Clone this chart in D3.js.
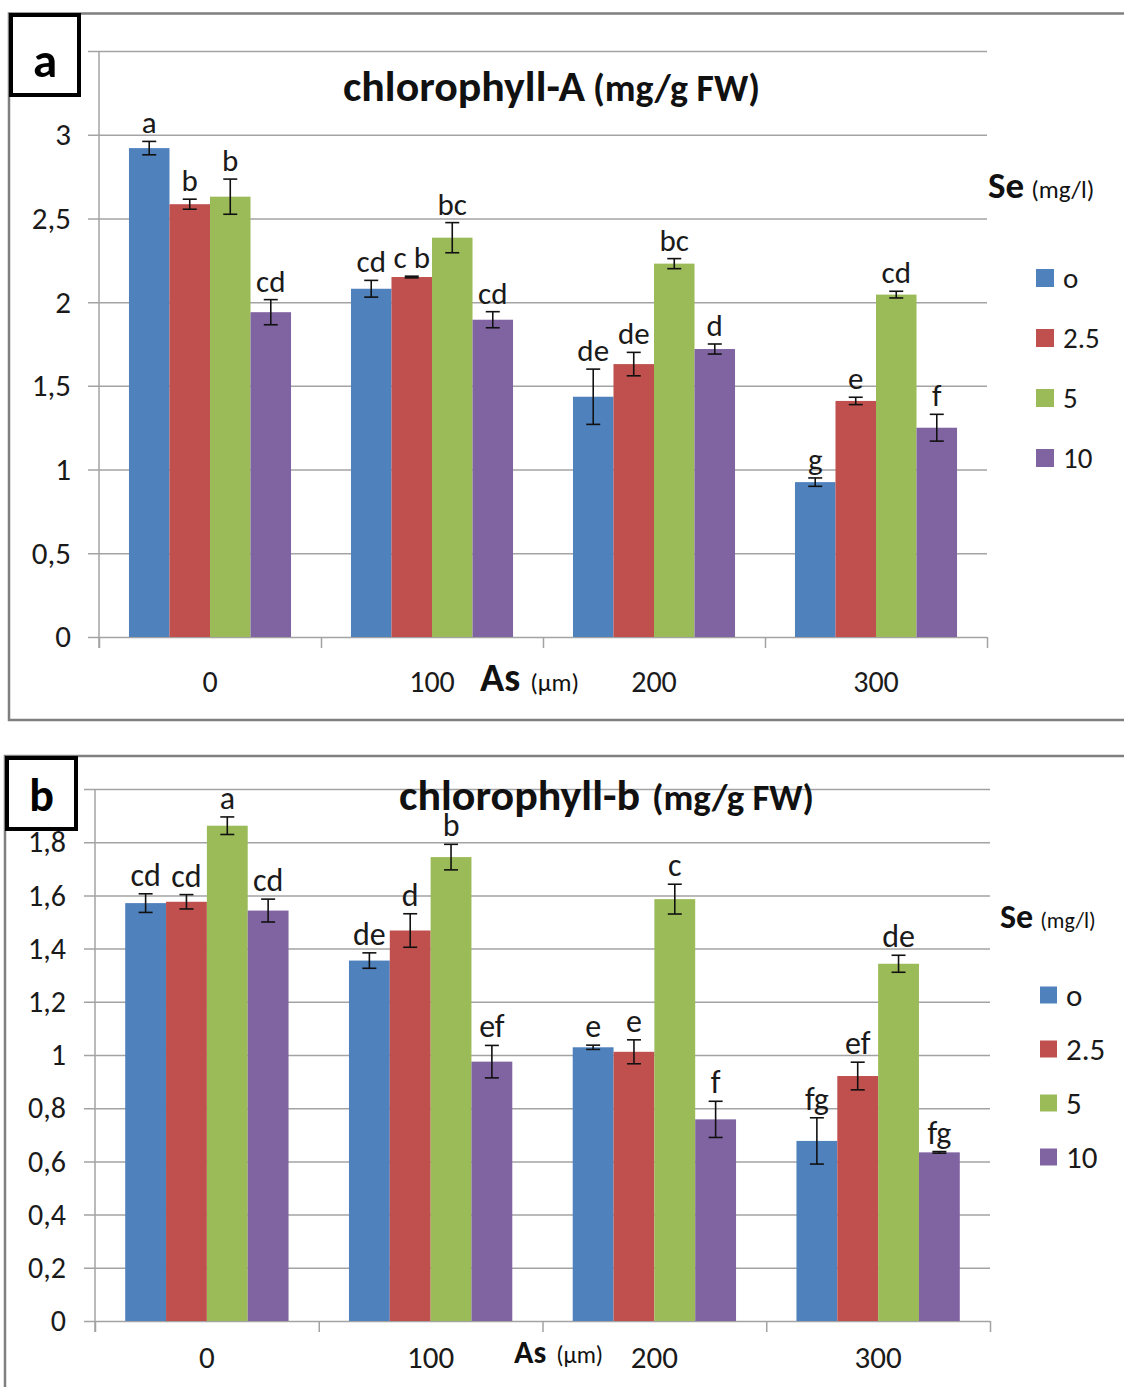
<!DOCTYPE html>
<html>
<head>
<meta charset="utf-8">
<script src="https://cdn.jsdelivr.net/npm/d3@7"></script>
<style>
  body { margin: 0; background: #fff; }
  svg { display: block; font-family: Carlito, Lato, "Open Sans", sans-serif; }
</style>
</head>
<body>
<div id="wrapper"></div>
<script>
// As doses (µm) on the x axis, Se levels (mg/l) as the four series
const asDoses = ["0", "100", "200", "300"];
const seLevels = ["o", "2.5", "5", "10"];
const seColors = ["#4f81bd", "#c0504d", "#9bbb59", "#8064a2"];

// chlorophyll-A (mg/g FW): one row per As dose, one value per Se level
const chlAValues = [
  [2.92, 2.585, 2.63, 1.94],
  [2.08, 2.15, 2.385, 1.895],
  [1.435, 1.63, 2.23, 1.72],
  [0.925, 1.41, 2.045, 1.25],
];
const chlAErrors = [
  [0.04, 0.03, 0.105, 0.075],
  [0.05, 0.005, 0.09, 0.048],
  [0.165, 0.07, 0.03, 0.03],
  [0.025, 0.022, 0.02, 0.08],
];
const chlALetters = [
  ["a", "b", "b", "cd"],
  ["cd", "c b", "bc", "cd"],
  ["de", "de", "bc", "d"],
  ["g", "e", "cd", "f"],
];
const chlATicks = [0, 0.5, 1, 1.5, 2, 2.5, 3, 3.5];

// chlorophyll-b (mg/g FW)
const chlBValues = [
  [1.571, 1.576, 1.862, 1.543],
  [1.355, 1.468, 1.744, 0.975],
  [1.029, 1.012, 1.586, 0.758],
  [0.677, 0.921, 1.343, 0.634],
];
const chlBErrors = [
  [0.035, 0.027, 0.033, 0.043],
  [0.029, 0.063, 0.048, 0.061],
  [0.008, 0.045, 0.056, 0.068],
  [0.087, 0.052, 0.032, 0.003],
];
const chlBLetters = [
  ["cd", "cd", "a", "cd"],
  ["de", "d", "b", "ef"],
  ["e", "e", "c", "f"],
  ["fg", "ef", "de", "fg"],
];
const chlBTicks = [0, 0.2, 0.4, 0.6, 0.8, 1, 1.2, 1.4, 1.6, 1.8, 2];

const GRID = "#a3a3a3";
const TEXT = "#1a1a1a";

const svg = d3.select("#wrapper")
  .append("svg")
    .attr("width", 1124)
    .attr("height", 1387);

svg.append("rect")
  .attr("width", 1124)
  .attr("height", 1387)
  .attr("fill", "#fff");

function drawPanel(p) {
  const g = svg.append("g");

  const x0 = d3.scaleBand()
    .domain(asDoses)
    .range([p.left, p.right])
    .paddingInner(0.27)
    .paddingOuter(0.135);
  const x1 = d3.scaleBand()
    .domain(seLevels)
    .range([0, x0.bandwidth()]);
  const yMax = d3.max(p.ticks);
  const y = d3.scaleLinear()
    .domain([0, yMax])
    .range([p.bottom, p.top]);

  // outer frame
  g.append("rect")
    .attr("x", p.frame.x)
    .attr("y", p.frame.y)
    .attr("width", p.frame.w)
    .attr("height", p.frame.h)
    .attr("fill", "none")
    .attr("stroke", "#7f7f7f")
    .attr("stroke-width", 2.5);

  // y axis + gridlines (top label sits under the panel letter box, so it is left blank)
  const yAxis = d3.axisLeft(y)
    .tickValues(p.ticks)
    .tickSizeInner(-(p.right - p.left))
    .tickSizeOuter(0)
    .tickPadding(p.tickPad)
    .tickFormat(d => d === yMax ? "" : String(d).replace(".", ","));
  g.append("g")
    .attr("transform", `translate(${p.left},0)`)
    .call(yAxis)
    .attr("font-family", null)
    .attr("font-size", p.tickFont)
    .call(a => a.select(".domain").remove())
    .call(a => a.selectAll(".tick line")
      .attr("x1", -11)
      .attr("stroke", GRID)
      .attr("stroke-width", 1.5))
    .call(a => a.selectAll(".tick text").attr("fill", TEXT));

  g.append("line")
    .attr("x1", p.left).attr("x2", p.left)
    .attr("y1", p.top).attr("y2", p.bottom + 11)
    .attr("stroke", GRID)
    .attr("stroke-width", 1.5);

  // x axis: boundary ticks and category labels
  const xEdges = d3.scaleLinear().domain([0, asDoses.length]).range([p.left, p.right]);
  g.append("g")
    .attr("transform", `translate(0,${p.bottom})`)
    .call(d3.axisBottom(xEdges).ticks(asDoses.length).tickFormat("").tickSizeInner(11).tickSizeOuter(0))
    .call(a => a.select(".domain").remove())
    .call(a => a.selectAll(".tick line").attr("stroke", GRID).attr("stroke-width", 1.5));

  g.append("g")
    .attr("transform", `translate(0,${p.bottom})`)
    .call(d3.axisBottom(x0).tickSize(0).tickPadding(p.catPad))
    .attr("font-family", null)
    .attr("font-size", p.catFont)
    .call(a => a.select(".domain").remove())
    .call(a => a.selectAll(".tick text").attr("fill", TEXT));

  // bars
  const rows = asDoses.map((dose, i) => seLevels.map((se, j) => ({
    dose, se, j,
    value: p.values[i][j],
    err: p.errors[i][j],
    letter: p.letters[i][j],
  })));

  const groups = g.append("g")
    .selectAll("g")
    .data(rows)
    .join("g")
      .attr("transform", d => `translate(${x0(d[0].dose)},0)`);

  groups.selectAll("rect")
    .data(d => d)
    .join("rect")
      .attr("x", d => x1(d.se))
      .attr("y", d => y(d.value))
      .attr("width", x1.bandwidth())
      .attr("height", d => p.bottom - y(d.value))
      .attr("fill", d => seColors[d.j]);

  // error bars
  const cx = d => x1(d.se) + x1.bandwidth() / 2;
  const errs = groups.selectAll("g.err")
    .data(d => d)
    .join("g")
      .attr("class", "err")
      .attr("stroke", "#111")
      .attr("stroke-width", 1.6);
  errs.append("line")
    .attr("x1", cx).attr("x2", cx)
    .attr("y1", d => y(d.value + d.err))
    .attr("y2", d => y(d.value - d.err));
  errs.append("line")
    .attr("x1", d => cx(d) - 7).attr("x2", d => cx(d) + 7)
    .attr("y1", d => y(d.value + d.err)).attr("y2", d => y(d.value + d.err));
  errs.append("line")
    .attr("x1", d => cx(d) - 7).attr("x2", d => cx(d) + 7)
    .attr("y1", d => y(d.value - d.err)).attr("y2", d => y(d.value - d.err));

  // significance letters
  groups.selectAll("text")
    .data(d => d)
    .join("text")
      .attr("x", cx)
      .attr("y", d => y(d.value + d.err) - 8)
      .attr("text-anchor", "middle")
      .attr("font-size", p.letterFont)
      .attr("fill", TEXT)
      .text(d => d.letter);

  // title
  g.append("text")
    .attr("x", p.title.x)
    .attr("y", p.title.y)
    .attr("font-weight", "bold")
    .attr("font-size", p.title.size)
    .attr("fill", "#111")
    .attr("textLength", p.title.w1)
    .attr("lengthAdjust", "spacingAndGlyphs")
    .text(p.title.main);
  g.append("text")
    .attr("x", p.title.x2)
    .attr("y", p.title.y)
    .attr("font-weight", "bold")
    .attr("font-size", p.title.size2)
    .attr("fill", "#111")
    .attr("textLength", p.title.w2)
    .attr("lengthAdjust", "spacingAndGlyphs")
    .text("(mg/g FW)");

  // x axis title: As (µm)
  const asLabel = g.append("text")
    .attr("x", p.asLabel.x)
    .attr("y", p.asLabel.y)
    .attr("fill", "#111");
  asLabel.append("tspan")
    .attr("font-weight", "bold")
    .attr("font-size", p.asLabel.size)
    .text("As");
  asLabel.append("tspan")
    .attr("dx", 10)
    .attr("font-size", p.asLabel.size2)
    .text("(µm)");

  // legend
  const legend = g.append("g");
  const se = legend.append("text")
    .attr("x", p.legend.x)
    .attr("y", p.legend.titleY)
    .attr("fill", "#111");
  se.append("tspan")
    .attr("font-weight", "bold")
    .attr("font-size", p.legend.titleSize)
    .text("Se");
  se.append("tspan")
    .attr("dx", 7)
    .attr("font-size", p.legend.subSize)
    .text("(mg/l)");

  const items = legend.selectAll("g.item")
    .data(seLevels)
    .join("g")
      .attr("class", "item")
      .attr("transform", (d, i) => `translate(${p.legend.boxX},${p.legend.y0 + i * p.legend.step})`);
  items.append("rect")
    .attr("x", 0)
    .attr("y", -p.legend.box / 2)
    .attr("width", p.legend.box)
    .attr("height", p.legend.box)
    .attr("fill", (d, i) => seColors[i]);
  items.append("text")
    .attr("x", p.legend.box + 9)
    .attr("y", 0)
    .attr("dy", "0.34em")
    .attr("font-size", p.legend.font)
    .attr("fill", TEXT)
    .text(d => d);

  // panel letter box
  g.append("rect")
    .attr("x", p.box.x)
    .attr("y", p.box.y)
    .attr("width", p.box.w)
    .attr("height", p.box.h)
    .attr("fill", "#fff")
    .attr("stroke", "#000")
    .attr("stroke-width", 4);
  g.append("text")
    .attr("x", p.box.x + p.box.w / 2)
    .attr("y", p.box.textY)
    .attr("text-anchor", "middle")
    .attr("font-weight", "bold")
    .attr("font-size", p.box.font)
    .attr("fill", "#000")
    .text(p.box.label);
}

drawPanel({
  values: chlAValues, errors: chlAErrors, letters: chlALetters, ticks: chlATicks,
  left: 99, right: 987, top: 51, bottom: 637,
  frame: { x: 9, y: 13.5, w: 1140, h: 706.5 },
  box: { x: 11, y: 15, w: 68, h: 80, label: "a", textY: 77, font: 49 },
  tickPad: 28, tickFont: 31, catPad: 34, catFont: 30, letterFont: 31,
  title: { main: "chlorophyll-A", x: 343, y: 101, size: 43, w1: 242, x2: 593, size2: 38, w2: 167 },
  asLabel: { x: 480, y: 691, size: 40, size2: 25 },
  legend: { x: 988, titleY: 198, titleSize: 37, subSize: 25, boxX: 1036, y0: 278, step: 60, box: 18, font: 29 },
});

drawPanel({
  values: chlBValues, errors: chlBErrors, letters: chlBLetters, ticks: chlBTicks,
  left: 95, right: 990, top: 789, bottom: 1321,
  frame: { x: 5, y: 756, w: 1140, h: 700 },
  box: { x: 7, y: 758, w: 69, h: 71, label: "b", textY: 811, font: 46 },
  tickPad: 29, tickFont: 30, catPad: 25, catFont: 31, letterFont: 32,
  title: { main: "chlorophyll-b", x: 399, y: 810, size: 43, w1: 241, x2: 652, size2: 37, w2: 162 },
  asLabel: { x: 514, y: 1363, size: 32, size2: 24 },
  legend: { x: 1000, titleY: 928, titleSize: 34, subSize: 22, boxX: 1040, y0: 995, step: 54, box: 17, font: 31 },
});
</script>
</body>
</html>
